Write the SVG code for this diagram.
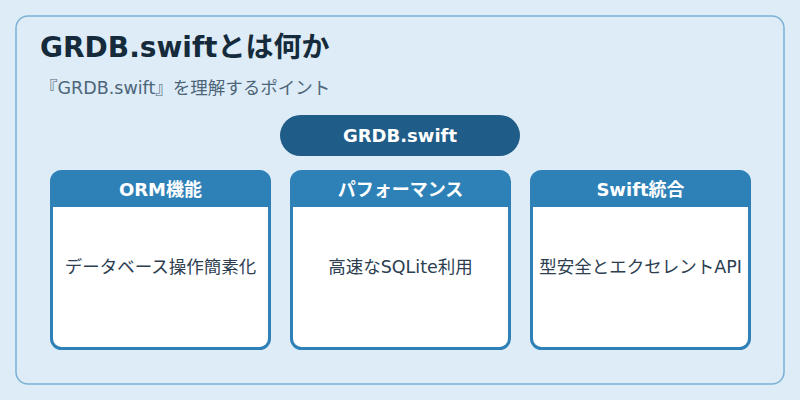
<svg xmlns="http://www.w3.org/2000/svg" width="800" height="400" viewBox="0 0 800 400">
<style>
.jp{font-family:"DejaVu Sans","Noto Sans CJK JP",sans-serif}
.card{fill:#ffffff;stroke:#2e81b7;stroke-width:3}
.hdr{fill:#2e81b7}
.ht{font-size:18px;font-weight:bold;fill:#ffffff;text-anchor:middle}
.bt{font-size:17.5px;fill:#2c3e50;text-anchor:middle}
</style>
<rect x="0" y="0" width="800" height="400" fill="#ddecf7"/>
<rect x="16" y="16" width="768" height="368" rx="12" fill="#ddecf7" stroke="#7ab1d3" stroke-width="1.5"/>
<text x="40" y="57" class="jp" font-size="28" font-weight="bold" fill="#152b3c">GRDB.swiftとは何か</text>
<text x="40" y="94" class="jp" font-size="17.5" fill="#4d6579">『GRDB.swift』を理解するポイント</text>
<g id="root">
<rect x="280" y="115" width="240" height="41" rx="20.5" fill="#1f5c88"/>
<text x="400" y="142" class="jp" font-size="18" font-weight="bold" fill="#ffffff" text-anchor="middle">GRDB.swift</text>
</g>
<g id="connectors"></g>
<g id="orm">
<rect x="51.5" y="171.5" width="218" height="177" rx="10" class="card"/>
<path d="M51.5 207 V181.5 A10 10 0 0 1 61.5 171.5 H259.5 A10 10 0 0 1 269.5 181.5 V207 Z" class="hdr"/>
<text x="160.5" y="196" class="jp ht">ORM機能</text>
<text x="160.5" y="273" class="jp bt">データベース操作簡素化</text>
</g>
<g id="perf">
<rect x="291.5" y="171.5" width="218" height="177" rx="10" class="card"/>
<path d="M291.5 207 V181.5 A10 10 0 0 1 301.5 171.5 H499.5 A10 10 0 0 1 509.5 181.5 V207 Z" class="hdr"/>
<text x="400.5" y="196" class="jp ht">パフォーマンス</text>
<text x="400.5" y="273" class="jp bt">高速なSQLite利用</text>
</g>
<g id="swift">
<rect x="531.5" y="171.5" width="218" height="177" rx="10" class="card"/>
<path d="M531.5 207 V181.5 A10 10 0 0 1 541.5 171.5 H739.5 A10 10 0 0 1 749.5 181.5 V207 Z" class="hdr"/>
<text x="640.5" y="196" class="jp ht">Swift統合</text>
<text x="640.5" y="273" class="jp bt">型安全とエクセレントAPI</text>
</g>
</svg>
